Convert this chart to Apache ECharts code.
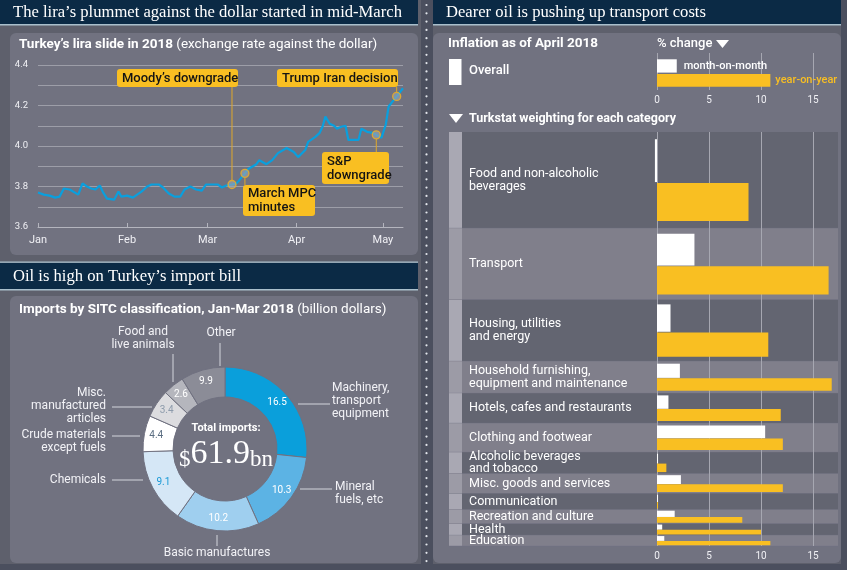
<!DOCTYPE html>
<html><head><meta charset="utf-8">
<script src="https://cdn.jsdelivr.net/npm/echarts@6/dist/echarts.min.js"></script>
<style>html,body{margin:0;padding:0;background:#4b4f5e}#c{width:847px;height:570px}</style>
</head><body><div id="c"></div>
<script>
// ---------------- DATA ----------------
// Lira line chart (x = days since 1 Jan 2018, y = lira per dollar)
const lineDays = [0,2,4,6,7.5,9,11,14,15.5,17,18.5,20,21.5,22.5,24,26.5,28,29,31,33,35,36,38,39.5,42,43.5,45.5,47.5,49.5,51,53,55,57,58.5,61,62.5,64,65.5,67.5,69,70,72,73,76,77,79.5,81.5,83.5,86.5,89,90.5,93,94,96.5,98,99,100,101.5,103,104,105.5,107,108,111.5,112.5,114.5,116.5,117.7,119.5,121,122,124.8,127];
const lineValues = [3.77,3.76,3.755,3.745,3.75,3.79,3.785,3.76,3.815,3.80,3.79,3.785,3.805,3.775,3.74,3.735,3.775,3.75,3.755,3.745,3.765,3.775,3.80,3.81,3.81,3.795,3.765,3.75,3.75,3.785,3.80,3.785,3.78,3.81,3.81,3.81,3.795,3.805,3.81,3.815,3.83,3.865,3.885,3.91,3.93,3.91,3.93,3.965,3.99,3.97,3.945,3.98,4.02,4.045,4.065,4.095,4.145,4.11,4.10,4.085,4.095,4.10,4.03,4.03,4.085,4.07,4.065,4.055,4.04,4.105,4.195,4.245,4.285];
const monthTickDays = [0,31,59,90,120];
const monthTickLabels = ['Jan','Feb','Mar','Apr','May'];
const annLabels = ['Moody\u2019s downgrade','March MPC\nminutes','S&P\ndowngrade','Trump Iran decision'];
const annDays = [67.5,72,117.7,124.8];
const annValues = [3.81,3.865,4.055,4.245];

// Imports donut (billion dollars)
const importCategories = ['Machinery,\ntransport\nequipment','Mineral\nfuels, etc','Basic manufactures','Chemicals','Crude materials\nexcept fuels','Misc.\nmanufactured\narticles','Food and\nlive animals','Other'];
const importValues = [16.5,10.3,10.2,9.1,4.4,3.4,2.6,9.9];
const importTotal = 61.9;

// Inflation, April 2018 (% change)
const overallLabels = ['month-on-month','year-on-year'];
const overallValues = [1.9,10.9];
const inflationCategories = ['Food and non-alcoholic\nbeverages','Transport','Housing, utilities\nand energy','Household furnishing,\nequipment and maintenance','Hotels, cafes and restaurants','Clothing and footwear','Alcoholic beverages\nand tobacco','Misc. goods and services','Communication','Recreation and culture','Health','Education'];
const inflationWeights = [23.3,17.3,14.9,7.7,7.3,7.0,5.2,4.8,3.9,3.4,2.8,2.6];
const inflationMoM = [-0.2,3.6,1.3,2.2,1.1,10.4,0.1,2.3,0.1,1.7,0.5,0.7];
const inflationYoY = [8.8,16.5,10.7,16.8,11.9,12.1,0.9,12.1,0.1,8.2,10.0,10.9];
const pctTicks = [0,5,10,15];

// ---------------- STYLE / LAYOUT ----------------
const SANS = 'Roboto, "Noto Sans", "DejaVu Sans", sans-serif';
const SERIF = '"Liberation Serif", "DejaVu Serif", serif';
const NAVY = '#0b2a45', PANEL = '#5e606c', CARD = '#717280', YELLOW = '#f9bf22', BLUE = '#0a9fdd';
const pieColors = ['#0a9fdb','#5cb3e4','#9fcfef','#d5e7f6','#ffffff','#dcdcdf','#b5b6bd','#8b8c97'];
const pieLabelColors = ['#ffffff','#ffffff','#ffffff','#1a9ad6','#5b6e82','#8d9bab','#ffffff','#ffffff'];
const pieLabelLayout = [
  {x:332,y:388,align:'left',line:[[298,404],[330,404]]},
  {x:335,y:487,align:'left',line:[[300,489],[332,489]]},
  {x:217,y:553,align:'center',line:[[217,535],[217,546]]},
  {x:106,y:480,align:'right',line:[[112,480],[143,480]]},
  {x:106,y:435,align:'right',line:[[112,436],[140,436]]},
  {x:106,y:393,align:'right',line:[[112,407],[152,407]]},
  {x:143,y:332,align:'center',line:[[173,354],[173,382]]},
  {x:221,y:333,align:'center',line:[[220,343],[220,366]]}
];
const annBoxes = [
  {x:117,y:69,w:121,h:18},
  {x:243,y:185,w:72,h:31},
  {x:322,y:152,w:67,h:32},
  {x:277,y:69,w:121,h:18}
];
const MAIN_FRAC = {mom:[0.075,0.52], yoy:[0.53,0.925]};
const TOP_FRAC = {mom:[0.17,0.53], yoy:[0.57,0.91]};

// sector sizes as drawn in the reference (scaled to the stated total)
const sectorValues = importValues.map((v,i)=> i < importValues.length-1 ? v : +(importTotal - importValues.slice(0,-1).reduce((a,b)=>a+b,0)).toFixed(1));
const weightStarts = []; { let acc = 0; inflationWeights.forEach(w=>{ weightStarts.push(acc); acc += w; }); }
const weightTotal = inflationWeights.reduce((a,b)=>a+b,0);

// ---------------- STATIC GRAPHICS ----------------
const g = [];
g.push({type:'rect', z:-20, shape:{x:0,y:0,width:421,height:564}, style:{fill:PANEL}});
g.push({type:'rect', z:-20, shape:{x:433,y:0,width:408,height:564}, style:{fill:PANEL}});
for (let y=5; y<566; y+=8.3) g.push({type:'circle', z:-19, shape:{cx:426.5,cy:y,r:1.1}, style:{fill:'#e3e6ec'}});
function titleBar(x,y,w,h,text){
  g.push({type:'rect', z:-18, shape:{x:x,y:y,width:w,height:h}, style:{fill:NAVY}});
  g.push({type:'rect', z:-18, shape:{x:x,y:y+h,width:w,height:1.5}, style:{fill:'#a9bfcc'}});
  g.push({type:'text', x:x+13, y:y+h/2+1, style:{text:text, fill:'#ffffff', font:'16.6px '+SERIF, verticalAlign:'middle'}});
}
titleBar(0,0,418,24,'The lira\u2019s plummet against the dollar started in mid-March');
g.push({type:'rect', z:-18, shape:{x:0,y:261.5,width:418,height:1.2}, style:{fill:'#a9bfcc'}});
titleBar(0,263,418,26,'Oil is high on Turkey\u2019s import bill');
titleBar(433,0,408,24,'Dearer oil is pushing up transport costs');
g.push({type:'rect', z:-15, shape:{x:10,y:33,width:408,height:222,r:6}, style:{fill:CARD}});
g.push({type:'rect', z:-15, shape:{x:10,y:296,width:408,height:267,r:6}, style:{fill:CARD}});
g.push({type:'rect', z:-15, shape:{x:433,y:33,width:408,height:530,r:6}, style:{fill:CARD}});
const rich = {b:{fontWeight:'bold', fontSize:13.5, fontFamily:SANS, fill:'#fff'}, n:{fontSize:13.5, fontFamily:SANS, fill:'#fff'}};
g.push({type:'text', x:19, y:45, style:{text:'{b|Turkey\u2019s lira slide in 2018} {n|(exchange rate against the dollar)}', rich:rich, verticalAlign:'middle'}});
g.push({type:'text', x:19, y:310, style:{text:'{b|Imports by SITC classification, Jan-Mar 2018} {n|(billion dollars)}', rich:rich, verticalAlign:'middle'}});
g.push({type:'text', x:448, y:44, style:{text:'Inflation as of April 2018', fill:'#fff', fontWeight:'bold', fontSize:13.5, fontFamily:SANS, verticalAlign:'middle'}});
g.push({type:'rect', shape:{x:449,y:59,width:12.5,height:26}, style:{fill:'#fff'}});
g.push({type:'text', x:469, y:71, style:{text:'Overall', fill:'#fff', fontSize:13, fontWeight:500, fontFamily:SANS, verticalAlign:'middle'}});
g.push({type:'text', x:657, y:44, style:{text:'% change', fill:'#fff', fontSize:13, fontWeight:500, fontFamily:SANS, verticalAlign:'middle'}});
g.push({type:'polygon', shape:{points:[[716,40],[729,40],[722.5,48]]}, style:{fill:'#fff'}});
g.push({type:'polygon', shape:{points:[[449,114],[463,114],[456,123]]}, style:{fill:'#fff'}});
g.push({type:'text', x:469, y:119, style:{text:'Turkstat weighting for each category', fill:'#fff', fontWeight:'bold', fontSize:12.5, fontFamily:SANS, verticalAlign:'middle'}});
// donut centre text
g.push({type:'text', x:226, y:428, style:{text:'Total imports:', fill:'#fff', fontWeight:'bold', fontSize:11, fontFamily:SANS, align:'center', verticalAlign:'middle'}});
g.push({type:'text', x:226, y:454, style:{text:'{s|$}{v|'+importTotal+'}{s|bn}', align:'center', verticalAlign:'middle',
  rich:{s:{fontSize:23, fontFamily:SERIF, fill:'#fff', verticalAlign:'bottom'}, v:{fontSize:34, fontFamily:SERIF, fill:'#fff'}}}});
// donut outside labels
importCategories.forEach((name,i)=>{
  const L = pieLabelLayout[i];
  g.push({type:'polyline', shape:{points:L.line}, style:{stroke:'#d4d5dc', lineWidth:1}});
  g.push({type:'text', x:L.x, y:L.y-6.4, style:{text:name, fill:'#f2f2f6', fontSize:12, fontFamily:SANS, align:L.align, verticalAlign:'top', lineHeight:12.8}});
});

// ---------------- OPTION ----------------
const axisText = {color:'#f0f0f4', fontFamily:SANS};
const option = {
  animation:false,
  backgroundColor:'#4b4f5e',
  grid:[
    {left:38, top:65, width:365, height:162},
    {left:657, top:53, width:156, height:37},
    {left:657, top:132, width:156, height:414}
  ],
  xAxis:[
    {gridIndex:0, type:'value', min:0, max:127,
      axisLine:{show:true, lineStyle:{color:'#b4b5be'}},
      axisTick:{show:true, inside:true, length:4, customValues:monthTickDays, lineStyle:{color:'#b4b5be'}},
      axisLabel:Object.assign({customValues:monthTickDays, fontSize:11, margin:8, formatter:v=>monthTickLabels[monthTickDays.indexOf(v)]}, axisText),
      splitLine:{show:false}},
    {gridIndex:1, type:'value', min:0, max:15, interval:5, axisLine:{show:false}, axisTick:{show:false},
      axisLabel:Object.assign({fontSize:10, margin:5}, axisText), splitLine:{lineStyle:{color:'#a6a7b1'}}},
    {gridIndex:2, type:'value', min:0, max:15, interval:5, axisLine:{show:false}, axisTick:{show:false},
      axisLabel:Object.assign({fontSize:10, margin:5}, axisText), splitLine:{lineStyle:{color:'#a6a7b1'}}}
  ],
  yAxis:[
    {gridIndex:0, type:'value', min:3.6, max:4.4, interval:0.1, axisLine:{show:false}, axisTick:{show:false},
      axisLabel:Object.assign({fontSize:9.5, margin:10, formatter:v=> (Math.round(v*10)%2===0) ? v.toFixed(1) : ''}, axisText),
      splitLine:{lineStyle:{color:'#9d9ea8'}}},
    {gridIndex:1, type:'value', min:0, max:1, inverse:true, show:false},
    {gridIndex:2, type:'value', min:0, max:weightTotal, inverse:true, show:false}
  ],
  series:[
    {type:'line', xAxisIndex:0, yAxisIndex:0, data:lineDays.map((d,i)=>[d,lineValues[i]]), showSymbol:false,
      lineStyle:{color:BLUE, width:2.2}, z:3, silent:true},
    {type:'scatter', xAxisIndex:0, yAxisIndex:0, data:annDays.map((d,i)=>[d,annValues[i]]), symbolSize:8,
      itemStyle:{color:'rgba(150,165,180,0.8)', borderColor:'#f2b21c', borderWidth:1.3}, z:6, silent:true},
    {type:'pie', center:[225,449], radius:[52,82], startAngle:90, clockwise:true, silent:true, avoidLabelOverlap:false,
      itemStyle:{borderColor:'#707180', borderWidth:1},
      label:{position:'inside', fontSize:10, fontFamily:SANS, formatter:p=>String(importValues[p.dataIndex])},
      labelLine:{show:false},
      data:importCategories.map((n,i)=>({name:n, value:sectorValues[i], itemStyle:{color:pieColors[i]}, label:{color:pieLabelColors[i]}}))},
    {type:'custom', xAxisIndex:1, yAxisIndex:1, silent:true, dimensions:['mom','yoy'], encode:{x:[0,1]},
      data:[overallValues],
      renderItem:function(params, api){
        const x0 = api.coord([0,0])[0];
        const xm = api.coord([api.value(0),0])[0], xy = api.coord([api.value(1),0])[0];
        const yT = api.coord([0,0])[1], yB = api.coord([0,1])[1], h = yB - yT;
        const m0 = yT + h*TOP_FRAC.mom[0], m1 = yT + h*TOP_FRAC.mom[1];
        const y0 = yT + h*TOP_FRAC.yoy[0], y1 = yT + h*TOP_FRAC.yoy[1];
        return {type:'group', children:[
          {type:'rect', shape:{x:x0, y:m0, width:xm-x0, height:m1-m0}, style:{fill:'#ffffff'}},
          {type:'rect', shape:{x:x0, y:y0, width:xy-x0, height:y1-y0}, style:{fill:YELLOW}},
          {type:'text', x:xm+7, y:(m0+m1)/2, style:{text:overallLabels[0], fill:'#ffffff', fontSize:11, fontWeight:500, fontFamily:SANS, verticalAlign:'middle'}},
          {type:'text', x:xy+5, y:(y0+y1)/2, style:{text:overallLabels[1], fill:YELLOW, fontSize:11, fontWeight:500, fontFamily:SANS, verticalAlign:'middle'}}
        ]};
      }},
    {type:'custom', xAxisIndex:2, yAxisIndex:2, silent:true, z:-1, dimensions:['start','end','idx'], encode:{y:[0,1]},
      data:inflationWeights.map((w,i)=>[weightStarts[i], weightStarts[i]+w, i]),
      renderItem:function(params, api){
        const cs = params.coordSys;
        const yS = api.coord([0,api.value(0)])[1], yE = api.coord([0,api.value(1)])[1];
        const i = api.value(2);
        const left = cs.x - 208, right = cs.x + cs.width + 25;
        const dark = i % 2 === 0;
        return {type:'group', children:[
          {type:'rect', shape:{x:left, y:yS, width:right-left, height:yE-yS}, style:{fill: dark ? '#636571' : '#807f8b'}},
          {type:'rect', shape:{x:left, y:yS, width:13, height:yE-yS}, style:{fill: dark ? '#a9a8b3' : '#9c9ba6'}},
          {type:'rect', shape:{x:left, y:yE-0.5, width:right-left, height:0.8}, style:{fill:'#75768a', opacity:0.5}},
          {type:'text', x:left+20, y:(yS+yE)/2, style:{text:inflationCategories[i], fill:'#ffffff', fontSize:12.5, fontFamily:SANS, verticalAlign:'middle', lineHeight:12.5}}
        ]};
      }},
    {type:'custom', xAxisIndex:2, yAxisIndex:2, silent:true, z:3, dimensions:['mom','yoy','start','end'], encode:{x:[0,1], y:[2,3]},
      data:inflationWeights.map((w,i)=>[inflationMoM[i], inflationYoY[i], weightStarts[i], weightStarts[i]+w]),
      renderItem:function(params, api){
        const s = api.value(2), e = api.value(3);
        const x0 = api.coord([0,s])[0];
        const xm = api.coord([api.value(0),s])[0], xy = api.coord([api.value(1),s])[0];
        const yS = api.coord([0,s])[1], yE = api.coord([0,e])[1], h = yE - yS;
        return {type:'group', children:[
          {type:'rect', shape:{x:Math.min(x0,xm), y:yS+h*MAIN_FRAC.mom[0], width:Math.max(Math.abs(xm-x0),1), height:h*(MAIN_FRAC.mom[1]-MAIN_FRAC.mom[0])}, style:{fill:'#ffffff'}},
          {type:'rect', shape:{x:x0, y:yS+h*MAIN_FRAC.yoy[0], width:Math.max(xy-x0,1), height:h*(MAIN_FRAC.yoy[1]-MAIN_FRAC.yoy[0])}, style:{fill:YELLOW}}
        ]};
      }}
  ],
  graphic:{elements:g}
};

const chart = echarts.init(document.getElementById('c'), null, {renderer:'canvas', width:847, height:570});
chart.setOption(option);

// annotation boxes linked to the marker points
const ann = [];
annDays.forEach((d,i)=>{
  const p = chart.convertToPixel({gridIndex:0}, [d, annValues[i]]);
  const B = annBoxes[i];
  if (B.y > p[1]) ann.push({type:'line', z:50, shape:{x1:p[0],y1:p[1]+4,x2:p[0],y2:B.y}, style:{stroke:'#e0a92a', lineWidth:1}});
  else ann.push({type:'line', z:50, shape:{x1:p[0],y1:B.y+B.h,x2:p[0],y2:p[1]-4}, style:{stroke:'#e0a92a', lineWidth:1}});
  ann.push({type:'rect', z:50, shape:{x:B.x,y:B.y,width:B.w,height:B.h,r:3}, style:{fill:YELLOW}});
  ann.push({type:'text', z:51, x:B.x+5, y:B.y+B.h/2+0.5, style:{text:annLabels[i], fill:'#141414', fontSize:13, fontWeight:500, fontFamily:SANS, verticalAlign:'middle', lineHeight:14}});
});
chart.setOption({graphic:{elements:g.concat(ann)}});
</script></body></html>
